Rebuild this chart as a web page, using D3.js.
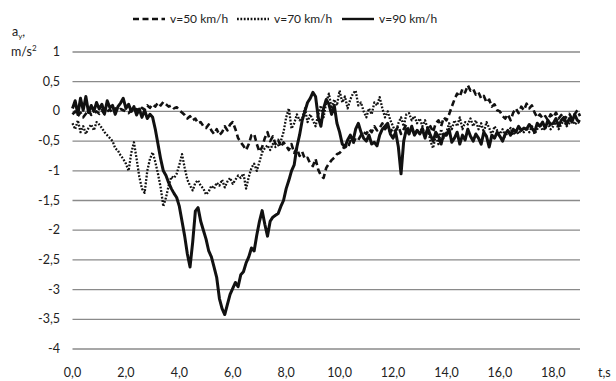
<!DOCTYPE html>
<html>
<head>
<meta charset="utf-8">
<script src="https://cdn.jsdelivr.net/npm/d3@7"></script>
<style>
  body { margin: 0; background: #fff; }
  text { font-family: Lato, "Liberation Sans", sans-serif; fill: #222; }
</style>
</head>
<body>
<div id="chart"></div>
<script>
// sampled every 0.1 s, t = 0 .. 19 s
const dt = 0.1;
const yTicks = [1, 0.5, 0, -0.5, -1, -1.5, -2, -2.5, -3, -3.5, -4];
const xTicks = [0, 2, 4, 6, 8, 10, 12, 14, 16, 18];

const v50 = [
  -0.05, 0.00, -0.08, -0.02, -0.10, -0.04, 0.02, -0.06, -0.03, 0.00,
  -0.04, 0.02, -0.05, 0.00, 0.03, -0.02, 0.05, 0.00, 0.04, 0.02,
  0.00, -0.03, 0.02, -0.02, 0.04, 0.00, 0.06, 0.03, 0.10, 0.06,
  0.12, 0.08, 0.15, 0.10, 0.16, 0.12, 0.08, 0.10, 0.05, 0.07,
  0.02, -0.02, -0.06, -0.12, -0.08, -0.15, -0.12, -0.20, -0.18, -0.25,
  -0.28, -0.22, -0.32, -0.38, -0.30, -0.40, -0.35, -0.25, -0.32, -0.22,
  -0.18, -0.30, -0.45, -0.52, -0.58, -0.65, -0.55, -0.40, -0.38, -0.55,
  -0.68, -0.60, -0.45, -0.35, -0.50, -0.42, -0.55, -0.48, -0.60, -0.52,
  -0.58, -0.65, -0.55, -0.70, -0.62, -0.75, -0.68, -0.80, -0.78, -0.88,
  -0.92, -0.80, -0.98, -1.08, -1.12, -0.95, -0.88, -0.82, -0.78, -0.72,
  -0.70, -0.65, -0.58, -0.62, -0.50, -0.55, -0.45, -0.48, -0.40, -0.35,
  -0.38, -0.30, -0.35, -0.25, -0.32, -0.28, -0.20, -0.30, -0.25, -0.35,
  -0.28, -0.32, -0.25, -0.38, -0.30, -0.22, -0.35, -0.28, -0.40, -0.32,
  -0.35, -0.28, -0.40, -0.30, -0.25, -0.35, -0.20, -0.15, -0.25, -0.10,
  -0.15, -0.05, 0.08, 0.20, 0.30, 0.25, 0.38, 0.32, 0.44, 0.35,
  0.38, 0.28, 0.32, 0.22, 0.26, 0.15, 0.20, 0.08, 0.12, 0.02,
  0.00, -0.08, -0.12, -0.05, -0.15, -0.02, 0.05, -0.03, 0.08, 0.02,
  0.13, 0.05, 0.10, -0.02, -0.10, -0.05, -0.12, -0.08, -0.15, -0.05,
  -0.10, -0.02, -0.12, -0.06, -0.15, -0.08, -0.04, -0.12, -0.05, 0.02,
  -0.08
];

const v70 = [
  -0.20, -0.30, -0.15, -0.35, -0.25, -0.38, -0.28, -0.22, -0.32, -0.18,
  -0.22, -0.28, -0.35, -0.40, -0.45, -0.50, -0.62, -0.66, -0.74, -0.80,
  -0.88, -1.00, -0.70, -0.52, -0.80, -1.10, -1.30, -1.37, -1.00, -0.80,
  -0.69, -0.85, -1.05, -1.28, -1.60, -1.45, -1.25, -1.10, -1.12, -1.05,
  -0.90, -0.72, -0.95, -1.15, -1.25, -1.33, -1.20, -1.16, -1.25, -1.30,
  -1.40, -1.35, -1.25, -1.30, -1.20, -1.25, -1.15, -1.28, -1.18, -1.12,
  -1.22, -1.15, -1.08, -1.12, -1.05, -1.30, -1.10, -0.95, -0.88, -1.00,
  -0.85, -0.69, -0.62, -0.57, -0.65, -0.55, -0.60, -0.57, -0.50, -0.35,
  -0.10, 0.05, -0.29, -0.20, -0.05, -0.15, -0.12, 0.05, -0.18, -0.05,
  -0.15, -0.25, -0.05, 0.10, -0.10, 0.15, 0.30, 0.05, 0.20, 0.10,
  0.35, 0.15, 0.25, 0.05, 0.20, 0.30, 0.35, 0.10, 0.15, 0.00,
  -0.10, 0.05, -0.05, 0.15, 0.10, 0.24, 0.05, -0.10, 0.00, -0.15,
  -0.25, -0.37, -0.20, -0.10, -0.25, -0.05, -0.03, -0.15, -0.08, -0.20,
  -0.12, -0.25, -0.15, -0.30, -0.50, -0.62, -0.40, -0.55, -0.30, -0.45,
  -0.35, -0.20, -0.30, -0.15, -0.25, -0.10, -0.30, -0.18, -0.22, -0.12,
  -0.25, -0.15, -0.30, -0.20, -0.35, -0.18, -0.28, -0.40, -0.25, -0.32,
  -0.38, -0.30, -0.42, -0.35, -0.28, -0.40, -0.32, -0.38, -0.30, -0.35,
  -0.28, -0.35, -0.25, -0.38, -0.30, -0.22, -0.32, -0.28, -0.20, -0.30,
  -0.25, -0.18, -0.30, -0.22, -0.15, -0.25, -0.20, -0.12, -0.22, -0.18,
  -0.20
];

const v90 = [
  0.05, 0.18, -0.05, 0.22, 0.02, 0.25, -0.02, 0.10, 0.00, 0.15,
  0.04, 0.12, -0.04, 0.18, 0.06, 0.10, -0.05, 0.08, 0.14, 0.22,
  0.05, 0.12, 0.00, 0.08, -0.06, 0.04, -0.10, 0.02, -0.12, -0.05,
  -0.10, -0.30, -0.55, -0.80, -1.00, -1.08, -1.20, -1.30, -1.38, -1.45,
  -1.60, -1.85, -2.10, -2.40, -2.62, -2.20, -1.68, -1.62, -1.85, -2.00,
  -2.15, -2.35, -2.45, -2.62, -2.80, -3.15, -3.32, -3.42, -3.25, -3.08,
  -2.98, -2.88, -2.95, -2.75, -2.70, -2.55, -2.45, -2.30, -2.35, -2.08,
  -1.85, -1.67, -1.90, -2.10, -1.85, -1.78, -1.75, -1.72, -1.60, -1.50,
  -1.30, -1.16, -1.00, -0.90, -0.60, -0.40, -0.15, 0.00, 0.15, 0.22,
  0.32, 0.25, -0.10, -0.25, 0.05, 0.20, 0.12, -0.05, 0.10, -0.20,
  -0.35, -0.55, -0.60, -0.48, -0.40, -0.50, -0.30, -0.20, -0.35, -0.45,
  -0.50, -0.40, -0.55, -0.52, -0.58, -0.40, -0.30, -0.25, -0.20, -0.38,
  -0.45, -0.35, -0.60, -1.05, -0.50, -0.30, -0.38, -0.25, -0.40, -0.32,
  -0.38, -0.30, -0.45, -0.28, -0.40, -0.50, -0.35, -0.42, -0.55, -0.38,
  -0.40, -0.30, -0.52, -0.45, -0.35, -0.55, -0.40, -0.48, -0.30, -0.42,
  -0.50, -0.38, -0.45, -0.55, -0.35, -0.42, -0.60, -0.40, -0.45, -0.35,
  -0.42, -0.50, -0.38, -0.32, -0.40, -0.30, -0.35, -0.25, -0.32, -0.28,
  -0.30, -0.22, -0.28, -0.35, -0.20, -0.25, -0.18, -0.28, -0.15, -0.22,
  -0.20, -0.12, -0.25, -0.15, -0.10, -0.22, -0.12, -0.18, -0.05, -0.15,
  -0.18
];

const seriesNames = ["v=50 km/h", "v=70 km/h", "v=90 km/h"];
const seriesValues = [v50, v70, v90];
const seriesStyle = [
  {width: 2.6, dash: "6,3.5"},
  {width: 2.3, dash: "1.8,1.6"},
  {width: 3, dash: null}
];

const W = 616, H = 381;
const svg = d3.select("#chart").append("svg")
  .attr("width", W).attr("height", H);

const x = d3.scaleLinear().domain([0, 19]).range([72.5, 580]);
const y = d3.scaleLinear().domain([-4, 1]).range([349, 52]);
const comma = s => s.replace(".", ",").replace("−", "-");

// grid
svg.append("g").selectAll("line")
  .data(yTicks)
  .join("line")
  .attr("x1", x(0)).attr("x2", x(19))
  .attr("y1", d => y(d)).attr("y2", d => y(d))
  .attr("stroke", "#8a8a8a")
  .attr("stroke-width", 1.3);

// y labels
svg.append("g").selectAll("text")
  .data(yTicks)
  .join("text")
  .attr("x", 60)
  .attr("y", d => y(d) + 4)
  .attr("text-anchor", "end")
  .attr("font-size", 12.5)
  .text(d => comma(d3.format("")(d)));

// x labels
svg.append("g").selectAll("text")
  .data(xTicks)
  .join("text")
  .attr("x", d => x(d))
  .attr("y", 377)
  .attr("text-anchor", "middle")
  .attr("font-size", 12.5)
  .text(d => comma(d3.format(".1f")(d)));

svg.append("text")
  .attr("x", 598).attr("y", 377)
  .attr("font-size", 12.5)
  .text("t,s");

// y axis title
const yt = svg.append("text").attr("x", 12).attr("y", 36).attr("font-size", 12.5);
yt.append("tspan").text("a");
yt.append("tspan").attr("font-size", 8).attr("dy", 3).text("y");
yt.append("tspan").attr("dy", -3).text(",");
const yt2 = svg.append("text").attr("x", 11).attr("y", 56).attr("font-size", 12.5);
yt2.append("tspan").text("m/s");
yt2.append("tspan").attr("font-size", 8).attr("dy", -5).text("2");

// lines
const line = d3.line()
  .x((d, i) => x(i * dt))
  .y(d => y(d));

svg.append("g").selectAll("path")
  .data(seriesValues)
  .join("path")
  .attr("d", d => line(d))
  .attr("fill", "none")
  .attr("stroke", "#111")
  .attr("stroke-linejoin", "round")
  .attr("stroke-width", (d, i) => seriesStyle[i].width)
  .attr("stroke-dasharray", (d, i) => seriesStyle[i].dash);

// legend
const legendX = [133, 237, 342];
const lg = svg.append("g").selectAll("g")
  .data(seriesNames)
  .join("g")
  .attr("transform", (d, i) => `translate(${legendX[i]},19)`);
lg.append("line")
  .attr("x1", 0).attr("x2", 32)
  .attr("stroke", "#111")
  .attr("stroke-width", (d, i) => Math.min(seriesStyle[i].width, 2.4))
  .attr("stroke-dasharray", (d, i) => seriesStyle[i].dash);
lg.append("text")
  .attr("x", 37).attr("y", 4)
  .attr("font-size", 12)
  .text(d => d);
</script>
</body>
</html>
